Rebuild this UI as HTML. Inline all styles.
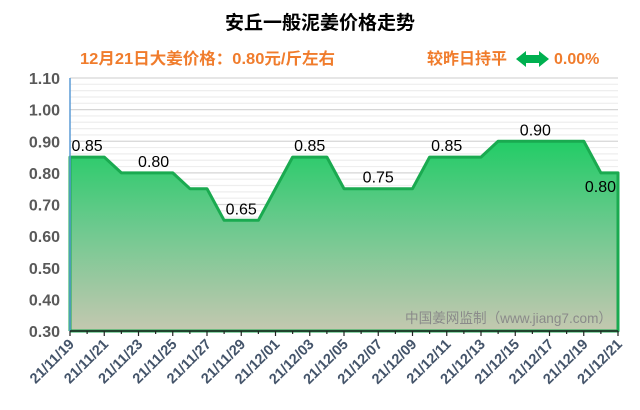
<!DOCTYPE html>
<html><head><meta charset="utf-8"><style>
body{margin:0;background:#fff;width:640px;height:410px;overflow:hidden}
svg{display:block}
</style></head><body>
<svg width="640" height="410" xmlns="http://www.w3.org/2000/svg" font-family="Liberation Sans, Noto Sans CJK SC, sans-serif">
<defs>
<linearGradient id="g" x1="0" y1="0" x2="0" y2="1">
<stop offset="0" stop-color="#22cc66"/>
<stop offset="0.45" stop-color="#6cc98e"/>
<stop offset="1" stop-color="#c4c8b0"/>
</linearGradient>
</defs>
<text x="320" y="29" text-anchor="middle" font-size="19" font-weight="bold" fill="#000">安丘一般泥姜价格走势</text>
<text x="80" y="64" font-size="16" font-weight="bold" fill="#f07c2c" textLength="255" lengthAdjust="spacingAndGlyphs">12月21日大姜价格：0.80元/斤左右</text>
<text x="427" y="64" font-size="16" font-weight="bold" fill="#f07c2c" textLength="80" lengthAdjust="spacingAndGlyphs">较昨日持平</text>
<polygon points="516,59 526,51 526,55 539,55 539,51 549,59 539,67 539,63 526,63 526,67" fill="#00b050"/>
<text x="554" y="64" font-size="16" font-weight="bold" fill="#f07c2c">0.00%</text>
<g id="grid"></g>
<g id="plot"></g>
</svg>
<script>
var ns="http://www.w3.org/2000/svg";
function el(t,a,p,txt){var e=document.createElementNS(ns,t);for(var k in a)e.setAttribute(k,a[k]);if(txt!=null)e.textContent=txt;(p||document.querySelector('svg')).appendChild(e);return e;}
var X0=70,X1=618,Y=function(v){return 331-(v-0.3)*316.25;};
var g=document.getElementById('grid');
for(var i=0;i<=40;i++){var v=0.3+i*0.02;var y=Y(v);var major=(i%5==0);
 el('line',{x1:X0,x2:X1,y1:y,y2:y,stroke:major?'#d6d6d6':'#eeeeee','stroke-width':1.2},g);}
for(var i=0;i<=8;i++){var v=0.3+i*0.1;el('text',{x:60,y:Y(v)+6,'text-anchor':'end','font-size':16,'font-weight':'bold',fill:'#595959'},g,v.toFixed(2));}
var d=[.85,.85,.85,.80,.80,.80,.80,.75,.75,.65,.65,.65,.75,.85,.85,.85,.75,.75,.75,.75,.75,.85,.85,.85,.85,.90,.90,.90,.90,.90,.90,.80,.80];
var dx=(X1-X0)/32;var pts=d.map(function(v,i){return (X0+i*dx).toFixed(1)+','+Y(v).toFixed(1);});
var p=document.getElementById('plot');
el('polygon',{points:X0+',331 '+pts.join(' ')+' '+X1+',331',fill:'url(#g)'},p);
el('polyline',{points:X0+',331 '+pts.join(' ')+' '+X1+',331 '+X0+',331',fill:'none',stroke:'#1aaa50','stroke-width':3,'stroke-linejoin':'round'},p);
el('line',{x1:X0,x2:X0,y1:78,y2:331,stroke:'#5b9bd5','stroke-width':1.5},p);
el('line',{x1:X0,x2:X1,y1:331,y2:331,stroke:'#222','stroke-width':1.5},p);
var dates=[];for(var i=19;i<=30;i++)dates.push('21/11/'+i);for(var i=1;i<=21;i++)dates.push('21/12/'+(i<10?'0'+i:i));
for(var i=0;i<33;i++){var x=X0+i*dx;el('line',{x1:x,x2:x,y1:331,y2:i%2==0?336:334,stroke:'#222','stroke-width':1.2},p);
 if(i%2==0){el('text',{x:x+5,y:345,'text-anchor':'end','font-size':14.5,'font-weight':'bold',fill:'#44546a',transform:'rotate(-45 '+(x+5)+' 345)'},p,dates[i]);}}
var labs=[[1,.85,0],[5,.80,0],[10,.65,0],[14,.85,0],[18,.75,0],[22,.85,0],[27,.90,0],[32,.80,1]];
labs.forEach(function(l){var x=X0+l[0]*dx;var y=l[2]?Y(l[1])+19:Y(l[1])-6;if(l[0]==5)x-=2;if(l[0]==27)x+=3;
 el('text',{x:l[2]?x-2:x,y:y,'text-anchor':l[2]?'end':'middle','font-size':16,fill:'#000'},p,l[1].toFixed(2));});
el('text',{x:612,y:323,'text-anchor':'end','font-size':14,fill:'#8a8a8a',textLength:207,lengthAdjust:'spacingAndGlyphs'},p,'中国姜网监制（www.jiang7.com）');
</script>
</body></html>
